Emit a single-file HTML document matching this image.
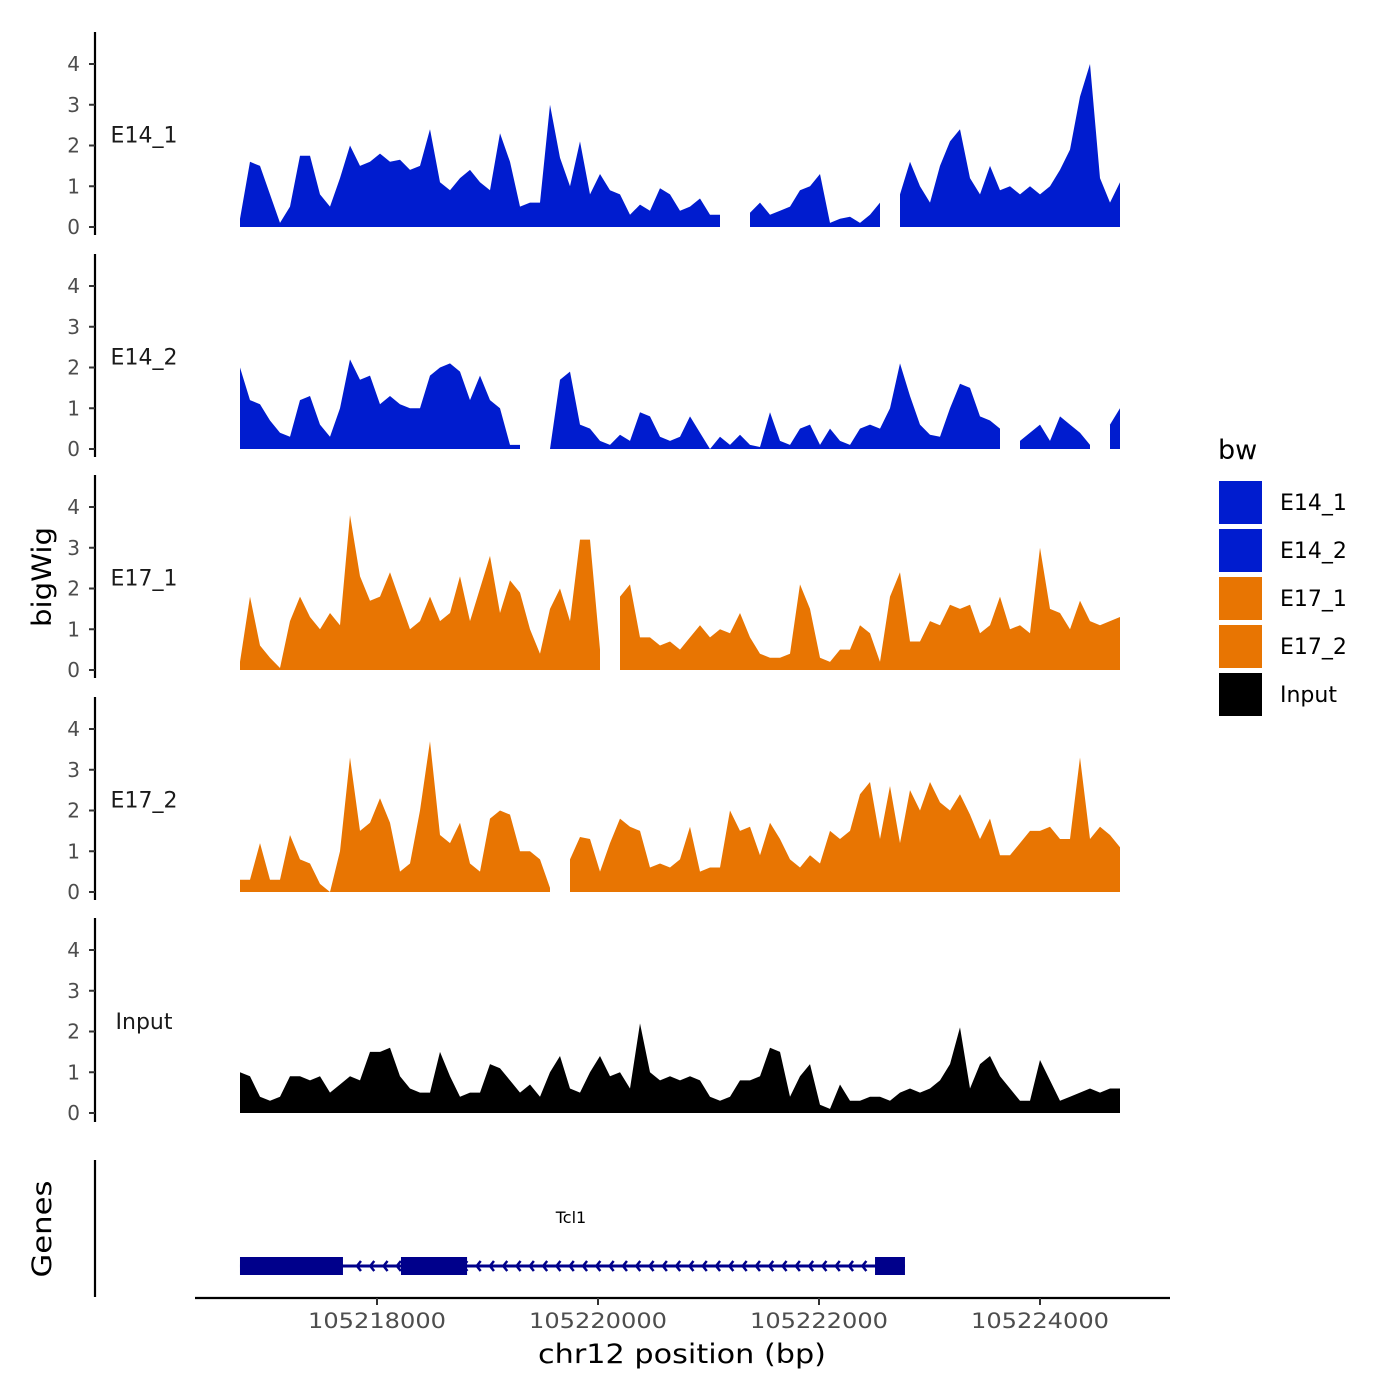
<!DOCTYPE html>
<html><head><meta charset="utf-8">
<style>
html,body{margin:0;padding:0;background:#fff;}
svg{display:block;font-family:"DejaVu Sans","Liberation Sans",sans-serif;}
</style></head>
<body>
<svg id="chart" width="1400" height="1400" viewBox="0 0 1400 1400" xmlns="http://www.w3.org/2000/svg"></svg>
<script>
// ---- data ----
const binStart = 105216760;
const binStep = 90.5;
const trackNames = ["E14_1","E14_2","E17_1","E17_2","Input"];
const trackColors = ["#001ccf","#001ccf","#e87502","#e87502","#000000"];
const e14_1 = [0.2,1.6,1.5,0.8,0.1,0.5,1.75,1.75,0.8,0.5,1.2,2.0,1.5,1.6,1.8,1.6,1.65,1.4,1.5,2.4,1.1,0.9,1.2,1.4,1.1,0.9,2.3,1.6,0.5,0.6,0.6,3.0,1.7,1.0,2.1,0.8,1.3,0.9,0.8,0.3,0.55,0.4,0.95,0.8,0.4,0.5,0.7,0.3,0.3,null,null,0.35,0.6,0.3,0.4,0.5,0.9,1.0,1.3,0.1,0.2,0.25,0.1,0.3,0.6,null,0.8,1.6,1.0,0.6,1.5,2.1,2.4,1.2,0.8,1.5,0.9,1.0,0.8,1.0,0.8,1.0,1.4,1.9,3.2,4.0,1.2,0.6,1.1];
const e14_2 = [2.0,1.2,1.1,0.7,0.4,0.3,1.2,1.3,0.6,0.3,1.0,2.2,1.7,1.8,1.1,1.3,1.1,1.0,1.0,1.8,2.0,2.1,1.9,1.2,1.8,1.2,1.0,0.1,0.1,null,null,0.0,1.7,1.9,0.6,0.5,0.2,0.1,0.35,0.2,0.9,0.8,0.3,0.2,0.3,0.8,0.4,0.0,0.3,0.1,0.35,0.1,0.05,0.9,0.2,0.1,0.5,0.6,0.1,0.5,0.2,0.1,0.5,0.6,0.5,1.0,2.1,1.3,0.6,0.35,0.3,1.0,1.6,1.5,0.8,0.7,0.5,null,0.2,0.4,0.6,0.2,0.8,0.6,0.4,0.1,null,0.6,1.0];
const e17_1 = [0.2,1.8,0.6,0.3,0.05,1.2,1.8,1.3,1.0,1.4,1.1,3.8,2.3,1.7,1.8,2.4,1.7,1.0,1.2,1.8,1.2,1.4,2.3,1.2,2.0,2.8,1.4,2.2,1.9,1.0,0.4,1.5,2.0,1.2,3.2,3.2,0.5,null,1.8,2.1,0.8,0.8,0.6,0.7,0.5,0.8,1.1,0.8,1.0,0.9,1.4,0.8,0.4,0.3,0.3,0.4,2.1,1.5,0.3,0.2,0.5,0.5,1.1,0.9,0.2,1.8,2.4,0.7,0.7,1.2,1.1,1.6,1.5,1.6,0.9,1.1,1.8,1.0,1.1,0.9,3.0,1.5,1.4,1.0,1.7,1.2,1.1,1.2,1.3];
const e17_2 = [0.3,0.3,1.2,0.3,0.3,1.4,0.8,0.7,0.2,0.0,1.0,3.3,1.5,1.7,2.3,1.7,0.5,0.7,2.0,3.7,1.4,1.2,1.7,0.7,0.5,1.8,2.0,1.9,1.0,1.0,0.8,0.1,null,0.8,1.35,1.3,0.5,1.2,1.8,1.6,1.5,0.6,0.7,0.6,0.8,1.6,0.5,0.6,0.6,2.0,1.5,1.6,0.9,1.7,1.3,0.8,0.6,0.9,0.7,1.5,1.3,1.5,2.4,2.7,1.3,2.6,1.2,2.5,2.0,2.7,2.2,2.0,2.4,1.9,1.3,1.8,0.9,0.9,1.2,1.5,1.5,1.6,1.3,1.3,3.3,1.3,1.6,1.4,1.1];
const input = [1.0,0.9,0.4,0.3,0.4,0.9,0.9,0.8,0.9,0.5,0.7,0.9,0.8,1.5,1.5,1.6,0.9,0.6,0.5,0.5,1.5,0.9,0.4,0.5,0.5,1.2,1.1,0.8,0.5,0.7,0.4,1.0,1.4,0.6,0.5,1.0,1.4,0.9,1.0,0.6,2.2,1.0,0.8,0.9,0.8,0.9,0.8,0.4,0.3,0.4,0.8,0.8,0.9,1.6,1.5,0.4,0.9,1.2,0.2,0.1,0.7,0.3,0.3,0.4,0.4,0.3,0.5,0.6,0.5,0.6,0.8,1.2,2.1,0.6,1.2,1.4,0.9,0.6,0.3,0.3,1.3,0.8,0.3,0.4,0.5,0.6,0.5,0.6,0.6];
const yTicks = [0,1,2,3,4];
const xTicks = [105218000,105220000,105222000,105224000];
const geneStart = 105216760, geneEnd = 105222778;
const exonStarts = [105216760,105218217,105222507];
const exonEnds = [105217692,105218815,105222778];

// ---- scales ----
const X = bp => 377 + (bp - 105218000) * 0.1105;
const zeroY = [227,449,670,892,1113];
const Y = (t,v) => zeroY[t] - v * 40.75;
const NS = "http://www.w3.org/2000/svg";
const svg = document.getElementById("chart");
function mk(tag, attrs, parent){ const e=document.createElementNS(NS,tag); for(const k in attrs) e.setAttribute(k,attrs[k]); (parent||svg).appendChild(e); return e; }

const series = [e14_1,e14_2,e17_1,e17_2,input];
const axisTop = [32,254,475,697,918];
const axisBot = [235,457,678,900,1122];

series.forEach((vals,t)=>{
  const g = mk("g",{});
  
  
  let seg=[];
  const segs=[];
  vals.forEach((v,i)=>{ if(v===null){ if(seg.length) segs.push(seg); seg=[]; } else seg.push([binStart+i*binStep,v]); });
  if(seg.length) segs.push(seg);
  segs.forEach(s=>{
    let d = "M"+X(s[0][0]).toFixed(1)+","+zeroY[t];
    s.forEach(p=>{ d += " L"+X(p[0]).toFixed(1)+","+Y(t,p[1]).toFixed(1); });
    d += " L"+X(s[s.length-1][0]).toFixed(1)+","+zeroY[t]+" Z";
    const p = mk("path",{d:d,fill:trackColors[t]},g);
    
    
  });
  const ax = mk("line",{x1:95,x2:95,y1:axisTop[t],y2:axisBot[t],stroke:"#000","stroke-width":2.2});
  
  
  yTicks.forEach(v=>{
    const tk = mk("line",{x1:89,x2:95,y1:Y(t,v),y2:Y(t,v),stroke:"#333","stroke-width":2});
    
    
    const lb = mk("text",{x:80,y:Y(t,v)+7,"text-anchor":"end","font-size":20,fill:"#4d4d4d"});
    lb.textContent = v;
    
    
  });
  const tl = mk("text",{x:144,y:(axisTop[t]+axisBot[t])/2+9,"text-anchor":"middle","font-size":22,fill:"#1a1a1a"});
  tl.textContent = trackNames[t];
  
  
});

const ga = mk("line",{x1:95,x2:95,y1:1160,y2:1297,stroke:"#000","stroke-width":2.2});


const gl = mk("line",{x1:X(geneStart),x2:X(geneEnd),y1:1266,y2:1266,stroke:"#00008b","stroke-width":3});


for(let x=X(exonEnds[0])+14; x < X(exonStarts[2]); x+=13.3){
  const a = mk("path",{d:`M${x+4},${1261} L${x},${1266} L${x+4},${1271}`,stroke:"#00008b","stroke-width":2.5,fill:"none"});
  
  
}
exonStarts.forEach((s,i)=>{
  const r = mk("rect",{x:X(s),y:1257,width:X(exonEnds[i])-X(s),height:18,fill:"#00008b"});
  
  
});
const gn = mk("text",{x:571,y:1223,"text-anchor":"middle","font-size":16,fill:"#000"});
gn.textContent="Tcl1";



const xa = mk("line",{x1:195,x2:1170,y1:1298,y2:1298,stroke:"#000","stroke-width":2.2});


xTicks.forEach(v=>{
  const tk = mk("line",{x1:X(v),x2:X(v),y1:1298,y2:1305,stroke:"#333","stroke-width":2});
  
  
  const lb = mk("text",{x:X(v),y:1328,"text-anchor":"middle","font-size":21,fill:"#4d4d4d",textLength:138,lengthAdjust:"spacingAndGlyphs"});
  lb.textContent=v;
  
  
});
</script>
<svg style="position:absolute;left:0;top:0" width="1400" height="1400">
  <text x="682" y="1363" text-anchor="middle" font-size="27" fill="#000" font-family="DejaVu Sans, sans-serif" textLength="288" lengthAdjust="spacingAndGlyphs">chr12 position (bp)</text>
  <text transform="translate(51,577) rotate(-90)" text-anchor="middle" font-size="27" fill="#000" font-family="DejaVu Sans, sans-serif" textLength="100" lengthAdjust="spacingAndGlyphs">bigWig</text>
  <text transform="translate(51,1229) rotate(-90)" text-anchor="middle" font-size="27" fill="#000" font-family="DejaVu Sans, sans-serif" textLength="97" lengthAdjust="spacingAndGlyphs">Genes</text>
  <g font-family="DejaVu Sans, sans-serif">
    <text x="1218" y="459" font-size="27" fill="#000">bw</text>
    <rect x="1219" y="481" width="43" height="43" fill="#001ccf"/>
    <rect x="1219" y="529" width="43" height="43" fill="#001ccf"/>
    <rect x="1219" y="577" width="43" height="43" fill="#e87502"/>
    <rect x="1219" y="625" width="43" height="43" fill="#e87502"/>
    <rect x="1219" y="673" width="43" height="43" fill="#000"/>
    <text x="1280" y="510" font-size="22">E14_1</text>
    <text x="1280" y="558" font-size="22">E14_2</text>
    <text x="1280" y="606" font-size="22">E17_1</text>
    <text x="1280" y="654" font-size="22">E17_2</text>
    <text x="1280" y="702" font-size="22">Input</text>
  </g>
</svg>
</body></html>
